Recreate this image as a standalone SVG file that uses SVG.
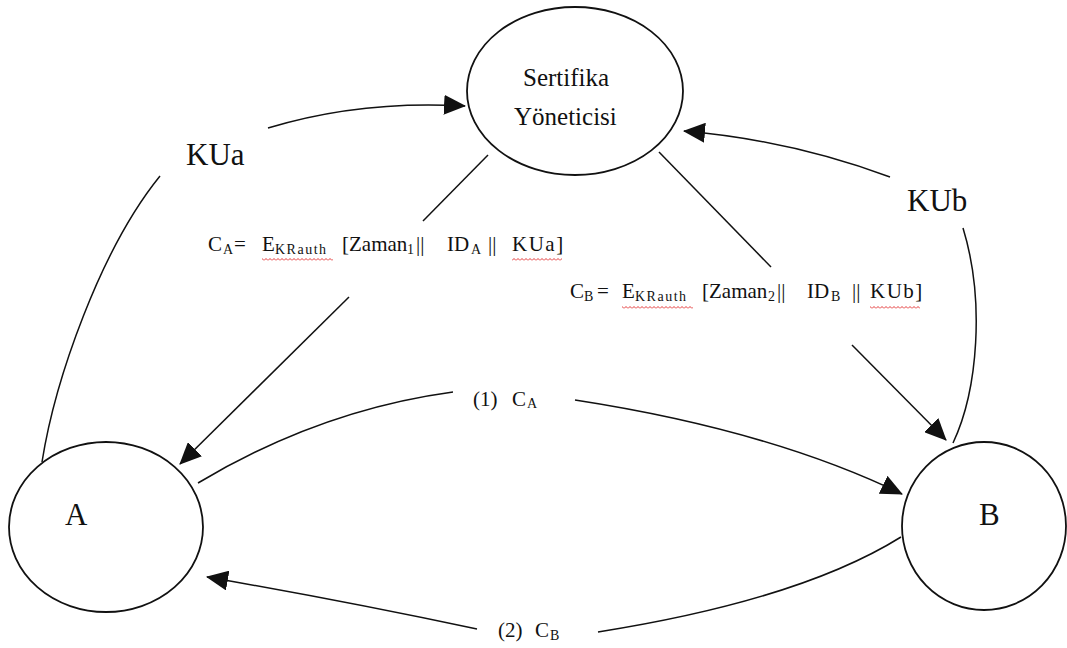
<svg xmlns="http://www.w3.org/2000/svg" width="1067" height="648" viewBox="0 0 1067 648">
  <style>
    .node { fill: #ffffff; stroke: #111111; stroke-width: 1.8; }
    .edge { fill: none; stroke: #111111; stroke-width: 1.5; }
    .t { font-family: "Liberation Serif", "Times New Roman", serif; fill: #111111; }
    .big { font-size: 31px; }
    .mid { font-size: 25px; }
    .eq { font-size: 21px; }
    .sub { font-size: 14px; }
    .squig { fill: url(#squiggle); }
  </style>
  <defs>
    <marker id="arrow" markerUnits="userSpaceOnUse" markerWidth="22" markerHeight="20" viewBox="0 0 22 20" refX="21" refY="10" orient="auto">
      <path d="M0,0 L22,10 L0,20 z" fill="#111111"/>
    </marker>
    <!-- red wavy spell-check underline -->
    <pattern id="squiggle" patternUnits="userSpaceOnUse" width="4" height="3">
      <path d="M0,2.5 L2,0.5 L4,2.5" fill="none" stroke="#e02020" stroke-width="0.9"/>
    </pattern>
  </defs>

  <rect width="1067" height="648" fill="#ffffff"/>

  <!-- certificate authority -->
  <g id="node-authority">
    <ellipse class="node" cx="575" cy="91" rx="108" ry="84"/>
    <text class="t mid" x="523" y="86">Sertifika</text>
    <text class="t mid" x="514" y="125">Yöneticisi</text>
  </g>

  <!-- party A -->
  <g id="node-a">
    <ellipse class="node" cx="106" cy="527" rx="97" ry="85"/>
    <text class="t big" x="65" y="525">A</text>
  </g>

  <!-- party B -->
  <g id="node-b">
    <ellipse class="node" cx="984" cy="526" rx="82" ry="84"/>
    <text class="t big" x="979" y="525">B</text>
  </g>

  <g id="connectors">
    <!-- A publishes KUa -->
    <path class="edge" d="M42,462 C55,380 100,250 160,176"/>
    <path class="edge" d="M268,128 Q360,100 465,106" marker-end="url(#arrow)"/>
    <!-- B publishes KUb -->
    <path class="edge" d="M953,443 C978,390 985,300 963,228"/>
    <path class="edge" d="M890,177 Q790,140 684,131" marker-end="url(#arrow)"/>
    <!-- certificate CA issued to A -->
    <path class="edge" d="M488,155 L423,221"/>
    <path class="edge" d="M349,297 L180,464" marker-end="url(#arrow)"/>
    <!-- certificate CB issued to B -->
    <path class="edge" d="M659,152 L771,267"/>
    <path class="edge" d="M852,345 L946,440" marker-end="url(#arrow)"/>
    <!-- (1) A sends CA to B -->
    <path class="edge" d="M198,483 Q320,410 453,392"/>
    <path class="edge" d="M575,400 Q770,430 902,494" marker-end="url(#arrow)"/>
    <!-- (2) B sends CB to A -->
    <path class="edge" d="M901,537 Q800,600 598,632"/>
    <path class="edge" d="M477,629 Q340,600 207,577" marker-end="url(#arrow)"/>
  </g>

  <g id="labels">
    <text class="t big" x="186" y="165">KUa</text>
    <text class="t big" x="907" y="211">KUb</text>

    <text class="t eq" y="251"><tspan x="208">C</tspan><tspan class="sub" x="223" dy="3">A</tspan><tspan x="234" dy="-3">=</tspan><tspan x="262">E</tspan><tspan class="sub" x="275" dy="3" letter-spacing="1.5">KRauth</tspan><tspan x="342" dy="-3">[Zaman</tspan><tspan class="sub" x="407" dy="3">1</tspan><tspan x="416" dy="-3">||</tspan><tspan x="447">ID</tspan><tspan class="sub" x="471" dy="3">A</tspan><tspan x="488" dy="-3">||</tspan><tspan x="512" letter-spacing="1.5">KUa]</tspan></text>
    <rect class="squig" x="262" y="258" width="71" height="3"/>
    <rect class="squig" x="512" y="258" width="50" height="3"/>

    <text class="t eq" y="298"><tspan x="570">C</tspan><tspan class="sub" x="584" dy="3">B</tspan><tspan x="597" dy="-3">=</tspan><tspan x="622">E</tspan><tspan class="sub" x="635" dy="3" letter-spacing="1.5">KRauth</tspan><tspan x="702" dy="-3">[Zaman</tspan><tspan class="sub" x="768" dy="3">2</tspan><tspan x="777" dy="-3">||</tspan><tspan x="807">ID</tspan><tspan class="sub" x="831" dy="3">B</tspan><tspan x="852" dy="-3">||</tspan><tspan x="870" letter-spacing="1.5">KUb]</tspan></text>
    <rect class="squig" x="622" y="306" width="71" height="3"/>
    <rect class="squig" x="870" y="306" width="50" height="3"/>

    <text class="t eq" y="406"><tspan x="473">(1)</tspan><tspan x="512">C</tspan><tspan class="sub" x="527" dy="2">A</tspan></text>
    <text class="t eq" y="637"><tspan x="498">(2)</tspan><tspan x="535">C</tspan><tspan class="sub" x="550" dy="3">B</tspan></text>
  </g>
</svg>
